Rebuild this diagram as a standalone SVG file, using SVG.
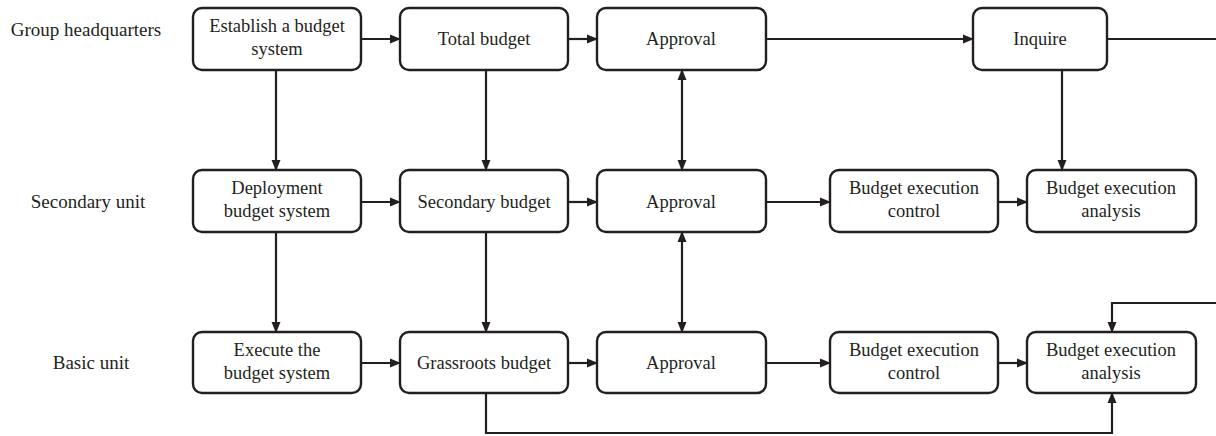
<svg xmlns="http://www.w3.org/2000/svg" width="1216" height="436" viewBox="0 0 1216 436">
<style>
.box{fill:#fff;stroke:#231f20;stroke-width:2.4}
.t{font-family:"Liberation Serif",serif;font-size:18.5px;fill:#231f20;text-anchor:middle}
.lbl{font-family:"Liberation Serif",serif;font-size:19px;fill:#231f20;text-anchor:middle}
.c{fill:none;stroke:#231f20;stroke-width:2.2}
</style>
<defs>
<marker id="ah" markerUnits="userSpaceOnUse" markerWidth="11" markerHeight="11" refX="10" refY="5.5" orient="auto-start-reverse" viewBox="0 0 11 11">
<path d="M0,1 L11,5.5 L0,10 Z" fill="#231f20"/>
</marker>
</defs>
<rect width="1216" height="436" fill="#fff"/>
<g id="labels">
<text class="lbl" x="86" y="36">Group headquarters</text>
<text class="lbl" x="88" y="208">Secondary unit</text>
<text class="lbl" x="91" y="369">Basic unit</text>
</g>
<g id="connectors">
<line class="c" x1="361" y1="39" x2="400" y2="39" marker-end="url(#ah)"/>
<line class="c" x1="568" y1="39" x2="597" y2="39" marker-end="url(#ah)"/>
<line class="c" x1="766" y1="39" x2="973" y2="39" marker-end="url(#ah)"/>
<line class="c" x1="1107" y1="39" x2="1217" y2="39"/>
<polyline class="c" points="1217,303 1112,303 1112,332" marker-end="url(#ah)"/>
<line class="c" x1="276" y1="70" x2="276" y2="170" marker-end="url(#ah)"/>
<line class="c" x1="486" y1="70" x2="486" y2="170" marker-end="url(#ah)"/>
<line class="c" x1="682" y1="70" x2="682" y2="170" marker-start="url(#ah)" marker-end="url(#ah)"/>
<line class="c" x1="1062" y1="70" x2="1062" y2="170" marker-end="url(#ah)"/>
<line class="c" x1="361" y1="202" x2="400" y2="202" marker-end="url(#ah)"/>
<line class="c" x1="568" y1="202" x2="597" y2="202" marker-end="url(#ah)"/>
<line class="c" x1="766" y1="202" x2="830" y2="202" marker-end="url(#ah)"/>
<line class="c" x1="998" y1="202" x2="1027" y2="202" marker-end="url(#ah)"/>
<line class="c" x1="276" y1="232" x2="276" y2="332" marker-end="url(#ah)"/>
<line class="c" x1="486" y1="232" x2="486" y2="332" marker-end="url(#ah)"/>
<line class="c" x1="682" y1="232" x2="682" y2="332" marker-start="url(#ah)" marker-end="url(#ah)"/>
<line class="c" x1="361" y1="363" x2="400" y2="363" marker-end="url(#ah)"/>
<line class="c" x1="568" y1="363" x2="597" y2="363" marker-end="url(#ah)"/>
<line class="c" x1="766" y1="363" x2="830" y2="363" marker-end="url(#ah)"/>
<line class="c" x1="998" y1="363" x2="1027" y2="363" marker-end="url(#ah)"/>
<polyline class="c" points="486,393 486,433 1112,433 1112,393" marker-end="url(#ah)"/>
</g>
<g id="n-establish"><rect class="box" x="193" y="8" width="168" height="62" rx="9"/><text class="t" x="277" y="32">Establish a budget</text><text class="t" x="277" y="55">system</text></g>
<g id="n-total"><rect class="box" x="400" y="8" width="168" height="62" rx="9"/><text class="t" x="484" y="45">Total budget</text></g>
<g id="n-approval1"><rect class="box" x="597" y="8" width="169" height="62" rx="9"/><text class="t" x="681" y="45">Approval</text></g>
<g id="n-inquire"><rect class="box" x="973" y="8" width="134" height="62" rx="9"/><text class="t" x="1040" y="45">Inquire</text></g>
<g id="n-deploy"><rect class="box" x="193" y="170" width="168" height="62" rx="9"/><text class="t" x="277" y="194">Deployment</text><text class="t" x="277" y="217">budget system</text></g>
<g id="n-secondary"><rect class="box" x="400" y="170" width="168" height="62" rx="9"/><text class="t" x="484" y="208">Secondary budget</text></g>
<g id="n-approval2"><rect class="box" x="597" y="170" width="169" height="62" rx="9"/><text class="t" x="681" y="208">Approval</text></g>
<g id="n-control2"><rect class="box" x="830" y="170" width="168" height="62" rx="9"/><text class="t" x="914" y="194">Budget execution</text><text class="t" x="914" y="217">control</text></g>
<g id="n-analysis2"><rect class="box" x="1027" y="170" width="169" height="62" rx="9"/><text class="t" x="1111" y="194">Budget execution</text><text class="t" x="1111" y="217">analysis</text></g>
<g id="n-execute"><rect class="box" x="193" y="332" width="168" height="61" rx="9"/><text class="t" x="277" y="356">Execute the</text><text class="t" x="277" y="379">budget system</text></g>
<g id="n-grassroots"><rect class="box" x="400" y="332" width="168" height="61" rx="9"/><text class="t" x="484" y="369">Grassroots budget</text></g>
<g id="n-approval3"><rect class="box" x="597" y="332" width="169" height="61" rx="9"/><text class="t" x="681" y="369">Approval</text></g>
<g id="n-control3"><rect class="box" x="830" y="332" width="168" height="61" rx="9"/><text class="t" x="914" y="356">Budget execution</text><text class="t" x="914" y="379">control</text></g>
<g id="n-analysis3"><rect class="box" x="1027" y="332" width="169" height="61" rx="9"/><text class="t" x="1111" y="356">Budget execution</text><text class="t" x="1111" y="379">analysis</text></g>
</svg>
